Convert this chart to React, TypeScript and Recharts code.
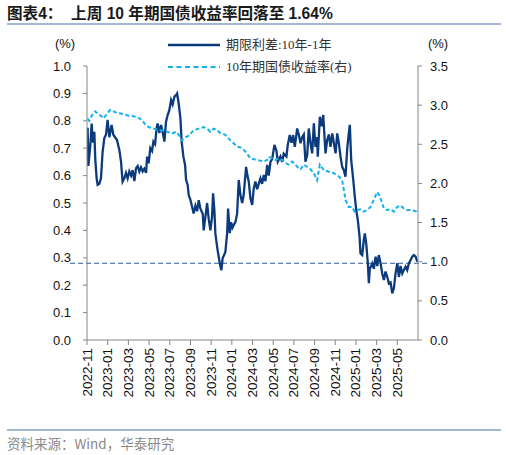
import React from "react";
import { LineChart, Line, XAxis, YAxis, ReferenceLine } from "recharts";

// x positions are months elapsed since 2022-11-01
const tickMonths = [0, 2, 4, 6, 8, 10, 12, 14, 16, 18, 20, 22, 24, 26, 28, 30];
const tickLabels = [
  "2022-11", "2023-01", "2023-03", "2023-05", "2023-07", "2023-09", "2023-11", "2024-01",
  "2024-03", "2024-05", "2024-07", "2024-09", "2024-11", "2025-01", "2025-03", "2025-05",
];
const leftTicks = [0, 0.1, 0.2, 0.3, 0.4, 0.5, 0.6, 0.7, 0.8, 0.9, 1.0];
const rightTicks = [0, 0.5, 1.0, 1.5, 2.0, 2.5, 3.0, 3.5];

const spreadMonths = [
  0.06, 0.13, 0.32, 0.45, 0.58, 0.71, 0.8, 0.93, 1.03, 1.19, 1.35, 1.51, 1.67, 1.84, 1.99, 2.16,
  2.38, 2.54, 2.71, 2.9, 3.13, 3.29, 3.44, 3.61, 3.77, 3.93, 4.09, 4.26, 4.41, 4.58, 4.74, 4.9,
  5.06, 5.22, 5.38, 5.54, 5.71, 5.81, 5.96, 6.12, 6.29, 6.42, 6.58, 6.73, 6.83, 7.0, 7.16, 7.31,
  7.48, 7.64, 7.8, 7.96, 8.13, 8.28, 8.45, 8.61, 8.71, 8.86, 9.03, 9.15, 9.32, 9.48, 9.58, 9.73,
  9.83, 10.0, 10.12, 10.31, 10.48, 10.64, 10.8, 10.96, 11.19, 11.28, 11.45, 11.61, 11.77, 11.93,
  12.09, 12.19, 12.32, 12.41, 12.58, 12.73, 12.9, 12.99, 13.12, 13.26, 13.38, 13.55, 13.64, 13.8,
  13.93, 14.06, 14.19, 14.35, 14.51, 14.67, 14.83, 15.0, 15.15, 15.38, 15.51, 15.64, 15.8, 15.97,
  16.12, 16.28, 16.45, 16.6, 16.77, 16.93, 17.09, 17.25, 17.42, 17.57, 17.74, 17.9, 18.12, 18.32,
  18.44, 18.7, 18.87, 19.02, 19.28, 19.41, 19.6, 19.77, 19.93, 20.09, 20.32, 20.47, 20.64, 20.8,
  20.96, 21.12, 21.29, 21.44, 21.61, 21.77, 21.93, 22.09, 22.25, 22.31, 22.51, 22.67, 22.84, 22.96,
  23.06, 23.22, 23.38, 23.54, 23.71, 23.86, 24.03, 24.19, 24.34, 24.51, 24.67, 24.83, 24.99, 25.16,
  25.31, 25.41, 25.54, 25.74, 25.89, 26.03, 26.18, 26.35, 26.44, 26.61, 26.76, 26.86, 27.0, 27.15,
  27.25, 27.34, 27.58, 27.73, 27.9, 28.06, 28.21, 28.38, 28.54, 28.7, 28.86, 29.03, 29.18, 29.35,
  29.51, 29.67, 29.83, 30.0, 30.15, 30.31, 30.48, 30.63, 30.8, 30.96, 31.12, 31.28, 31.45, 31.6,
  31.77, 31.93,
];
const spreadValues = [
  0.775, 0.635, 0.71, 0.79, 0.72, 0.76, 0.66, 0.59, 0.566, 0.57, 0.59, 0.687, 0.736, 0.75, 0.803, 0.74,
  0.785, 0.75, 0.74, 0.73, 0.693, 0.65, 0.578, 0.59, 0.61, 0.59, 0.615, 0.6, 0.62, 0.58, 0.627, 0.635,
  0.615, 0.63, 0.615, 0.625, 0.61, 0.669, 0.645, 0.7, 0.69, 0.724, 0.715, 0.773, 0.79, 0.755, 0.785, 0.76,
  0.724, 0.797, 0.821, 0.839, 0.876, 0.86, 0.888, 0.894, 0.9, 0.864, 0.81, 0.724, 0.669, 0.639, 0.584, 0.566,
  0.53, 0.511, 0.493, 0.462, 0.49, 0.47, 0.51, 0.48, 0.46, 0.4, 0.45, 0.5, 0.44, 0.4,
  0.45, 0.535, 0.47, 0.389, 0.34, 0.304, 0.268, 0.255, 0.3, 0.31, 0.322, 0.39, 0.48, 0.39,
  0.43, 0.41, 0.42, 0.43, 0.46, 0.584, 0.53, 0.5, 0.53, 0.632, 0.6, 0.578, 0.517, 0.493,
  0.553, 0.578, 0.55, 0.57, 0.59, 0.57, 0.602, 0.58, 0.639, 0.6, 0.651, 0.66, 0.712, 0.69,
  0.651, 0.67, 0.65, 0.68, 0.67, 0.712, 0.748, 0.72, 0.748, 0.705, 0.772, 0.75, 0.718, 0.74,
  0.75, 0.651, 0.675, 0.772, 0.718, 0.681, 0.791, 0.705, 0.74, 0.669, 0.815, 0.78, 0.821, 0.742,
  0.681, 0.73, 0.75, 0.705, 0.754, 0.72, 0.681, 0.754, 0.72, 0.669, 0.632, 0.62, 0.596, 0.7,
  0.754, 0.785, 0.657, 0.584, 0.523, 0.474, 0.438, 0.377, 0.316, 0.31, 0.365, 0.389, 0.35, 0.28,
  0.207, 0.26, 0.28, 0.26, 0.304, 0.27, 0.31, 0.28, 0.243, 0.219, 0.25, 0.23, 0.207, 0.21,
  0.17, 0.19, 0.243, 0.28, 0.23, 0.27, 0.243, 0.255, 0.268, 0.255, 0.28, 0.292, 0.304, 0.31,
  0.304, 0.286,
];

const yieldMonths = [
  0.06, 0.22, 0.48, 0.8, 1.12, 1.38, 1.61, 1.87, 2.25, 2.57, 2.9, 3.39, 3.87, 4.35, 4.84, 5.32,
  5.64, 5.96, 6.44, 6.93, 7.41, 7.74, 8.22, 8.64, 8.86, 9.19, 9.51, 9.83, 10.31, 10.8, 11.28, 11.61,
  11.93, 12.25, 12.58, 12.9, 13.38, 13.87, 14.19, 14.51, 14.83, 15.15, 15.48, 15.8, 16.12, 16.45,
  16.77, 17.09, 17.42, 17.57, 17.9, 18.22, 18.54, 18.87, 19.19, 19.51, 19.84, 20.15, 20.47, 20.64,
  20.96, 21.29, 21.61, 21.93, 22.25, 22.51, 22.89, 23.38, 23.86, 24.34, 24.67, 24.83, 24.99, 25.31,
  25.64, 25.86, 26.12, 26.44, 26.76, 27.09, 27.41, 27.73, 28.06, 28.21, 28.38, 28.7, 29.03, 29.35,
  29.67, 30.0, 30.31, 30.63, 30.96, 31.28, 31.6, 31.93,
];
const yieldValues = [
  2.83, 2.8, 2.87, 2.92, 2.88, 2.86, 2.83, 2.88, 2.94, 2.92, 2.9, 2.89, 2.87, 2.86, 2.85, 2.81,
  2.75, 2.72, 2.7, 2.68, 2.68, 2.66, 2.64, 2.66, 2.62, 2.55, 2.59, 2.61, 2.68, 2.7, 2.72, 2.7,
  2.66, 2.7, 2.68, 2.64, 2.62, 2.55, 2.51, 2.47, 2.46, 2.43, 2.38, 2.32, 2.31, 2.3,
  2.29, 2.28, 2.3, 2.34, 2.32, 2.3, 2.32, 2.3, 2.26, 2.24, 2.28, 2.24, 2.19, 2.18,
  2.24, 2.21, 2.18, 2.13, 2.04, 2.24, 2.17, 2.15, 2.13, 2.09, 2.04, 1.92, 1.79, 1.7,
  1.7, 1.64, 1.66, 1.67, 1.64, 1.66, 1.7, 1.79, 1.89, 1.86, 1.81, 1.68, 1.66, 1.67,
  1.64, 1.7, 1.72, 1.68, 1.66, 1.66, 1.65, 1.64,
];
const thresholdValue = 0.28;

const spreadData = spreadMonths.map((m, i) => ({ m, spread: spreadValues[i] }));
const yieldData = yieldMonths.map((m, i) => ({ m, y10: yieldValues[i] }));

const NAVY = "#0B3B7C";
const CYAN = "#14B1EE";
const AXIS = "#868686";
const SANS = "'Liberation Sans', Arial, 'Noto Sans CJK SC', sans-serif";
const SERIF = "'Liberation Serif', 'DejaVu Serif', 'Noto Sans CJK SC', serif";

const XTick = (props: any) => {
  const { x, y, payload } = props;
  const idx = tickMonths.indexOf(payload.value);
  return (
    <g transform={`translate(${x},${y})`}>
      <text
        transform="rotate(-90)"
        textAnchor="end"
        dominantBaseline="central"
        fontSize={13.5}
        fontFamily={SANS}
        fill="#111"
      >
        {idx >= 0 ? tickLabels[idx] : ""}
      </text>
    </g>
  );
};

const RefShape = (p: any) => (
  <line
    x1={p.x1 - 17}
    x2={p.x2 + 12}
    y1={p.y1}
    y2={p.y2}
    stroke="#2D5A9A"
    strokeWidth={1}
    strokeDasharray="5 3"
  />
);

export default function App() {
  return (
    <div
      style={{
        position: "absolute",
        left: 0,
        top: 0,
        width: 506,
        height: 455,
        background: "#fff",
        overflow: "hidden",
      }}
    >
      <div
        style={{
          position: "absolute",
          left: 7,
          top: 3,
          fontSize: 15.6,
          lineHeight: "22px",
          fontWeight: 700,
          fontFamily: SANS,
          color: "#1a1a1a",
          whiteSpace: "nowrap",
        }}
      >
        图表4：&nbsp;&nbsp;上周 10 年期国债收益率回落至 1.64%
      </div>
      <div style={{ position: "absolute", left: 7, top: 23, width: 494, height: 2, background: "#A3B8D3" }} />

      <div style={{ position: "absolute", left: 53, top: 36, width: 24, textAlign: "center", fontSize: 13, fontFamily: SANS, color: "#111" }}>
        (%)
      </div>
      <div style={{ position: "absolute", left: 426, top: 36, width: 24, textAlign: "center", fontSize: 13, fontFamily: SANS, color: "#111" }}>
        (%)
      </div>

      <svg style={{ position: "absolute", left: 168, top: 40 }} width={54} height={34}>
        <line x1={0} x2={52} y1={5} y2={5} stroke={NAVY} strokeWidth={2.5} />
        <line x1={0} x2={52} y1={27} y2={27} stroke={CYAN} strokeWidth={2} strokeDasharray="5 3.5" />
      </svg>
      <div style={{ position: "absolute", left: 226, top: 36, fontSize: 13, lineHeight: "18px", fontFamily: SERIF, color: "#333", whiteSpace: "nowrap" }}>
        期限利差:10年-1年
      </div>
      <div style={{ position: "absolute", left: 226, top: 58, fontSize: 13, lineHeight: "18px", fontFamily: SERIF, color: "#333", whiteSpace: "nowrap" }}>
        10年期国债收益率(右)
      </div>

      <div style={{ position: "absolute", left: 0, top: 0 }}>
        <LineChart width={506} height={455} margin={{ top: 66, right: 0, bottom: 55, left: 0 }}>
          <XAxis
            xAxisId="x"
            type="number"
            dataKey="m"
            domain={[0, 32]}
            ticks={tickMonths}
            interval={0}
            allowDataOverflow
            height={60}
            stroke={AXIS}
            tickSize={5}
            tickMargin={3}
            tick={<XTick />}
          />
          <YAxis
            yAxisId="left"
            orientation="left"
            domain={[0, 1]}
            ticks={leftTicks}
            width={87}
            stroke={AXIS}
            tickSize={4}
            tickMargin={12}
            tickFormatter={(v: number) => v.toFixed(1)}
            tick={{ fontSize: 13, fontFamily: SANS, fill: "#111" }}
            interval={0}
          />
          <YAxis
            yAxisId="right"
            orientation="right"
            domain={[0, 3.5]}
            ticks={rightTicks}
            width={88}
            stroke={AXIS}
            tickSize={4}
            tickMargin={8}
            tickFormatter={(v: number) => v.toFixed(1)}
            tick={{ fontSize: 13, fontFamily: SANS, fill: "#111" }}
            interval={0}
          />
          <ReferenceLine xAxisId="x" yAxisId="left" y={thresholdValue} shape={<RefShape />} />
          <Line
            xAxisId="x"
            yAxisId="left"
            data={spreadData}
            dataKey="spread"
            type="linear"
            stroke={NAVY}
            strokeWidth={2.3}
            dot={false}
            isAnimationActive={false}
          />
          <Line
            xAxisId="x"
            yAxisId="right"
            data={yieldData}
            dataKey="y10"
            type="linear"
            stroke={CYAN}
            strokeWidth={2}
            strokeDasharray="4 2.5"
            dot={false}
            isAnimationActive={false}
          />
        </LineChart>
      </div>

      <div style={{ position: "absolute", left: 7, top: 429, width: 494, height: 2, background: "#A3B8D3" }} />
      <div
        style={{
          position: "absolute",
          left: 7,
          top: 434,
          fontSize: 13.5,
          lineHeight: "18px",
          fontFamily: "'Noto Sans CJK SC', sans-serif",
          color: "#8a8a8a",
          whiteSpace: "nowrap",
        }}
      >
        资料来源：Wind，华泰研究
      </div>
    </div>
  );
}
